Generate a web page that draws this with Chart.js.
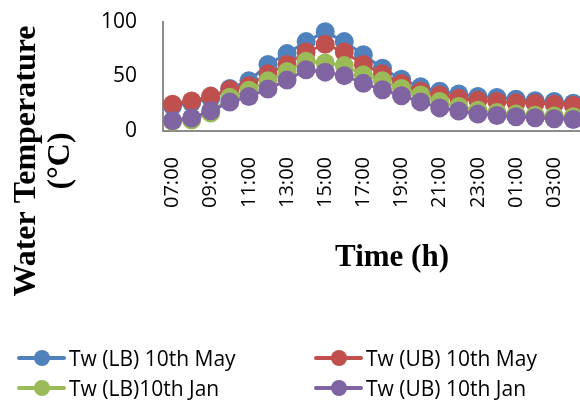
<!DOCTYPE html>
<html>
<head>
<meta charset="utf-8">
<script src="https://cdn.jsdelivr.net/npm/chart.js@4.4.1/dist/chart.umd.min.js"></script>
<style>
  html, body { margin: 0; padding: 0; background: #fff; overflow: hidden; }
  #wrap { position: relative; width: 580px; height: 405px; overflow: hidden; background: #fff; }
  #wrap canvas { position: absolute; left: 0; top: 0; }
  .item { position: absolute; display: flex; align-items: center; white-space: nowrap;
          font: 21px "Open Sans", sans-serif; color: #000; height: 30px; }
  .key { position: relative; width: 49px; height: 16px; margin-right: 3px; flex: none; }
  .key .ln { position: absolute; left: 0; right: 0; top: 6px; height: 4px; border-radius: 2px; }
  .key .dot { position: absolute; left: 17px; top: 0; width: 16px; height: 16px; border-radius: 50%; }
</style>
</head>
<body>
<div id="wrap">
  <canvas id="chart" width="640" height="405"></canvas>
  <div id="legend"></div>
</div>
<script>
// Hourly water temperature over one day, starting at 07:00
const timeLabels = ['07:00','08:00','09:00','10:00','11:00','12:00','13:00','14:00',
                    '15:00','16:00','17:00','18:00','19:00','20:00','21:00','22:00',
                    '23:00','00:00','01:00','02:00','03:00','04:00','05:00','06:00'];

const twLbMay = [23, 26, 30, 39, 46, 61, 71, 82, 91, 82, 70, 57.5,
                 47.5, 40.5, 36.5, 34, 31.6, 30.7, 29.2, 27.8, 27, 25.5, 25, 24.5];
const twUbMay = [24.5, 27.5, 32, 38, 41.5, 52.5, 61, 72.5, 79.5, 72.5, 61, 52.5,
                 43.5, 36.5, 33, 30, 28.3, 27, 26, 25.5, 24.6, 23.7, 23, 22.5];
const twLbJan = [9, 10, 16.5, 31, 37.5, 46, 54.5, 64, 62.5, 60, 51.5, 46,
                 39, 33, 27, 22.5, 19, 17, 15.5, 14.5, 13.7, 13, 12.5, 12];
const twUbJan = [9.5, 12, 18.5, 26.5, 31.6, 38.5, 46.7, 56.2, 54, 50.8, 43.7, 37.8,
                 32.3, 26.7, 21.2, 18.3, 15.5, 14.3, 13, 12.1, 11.2, 10.6, 10.2, 9.8];

const seriesNames  = ['Tw (LB) 10th May', 'Tw (UB) 10th May', 'Tw (LB)10th Jan', 'Tw (UB) 10th Jan'];
const seriesColors = ['#4F81BD', '#C0504D', '#9BBB59', '#8064A2'];
const seriesValues = [twLbMay, twUbMay, twLbJan, twUbJan];

const yTickValues = [0, 50, 100];
const xTitle = 'Time (h)';
const yTitleLines = ['Water Temperature', '(°C)'];

// Two-line rotated value-axis title, centred beside the plot and legend block
const yTitlePlugin = {
  id: 'yTitle',
  afterDraw(chart) {
    const ctx = chart.ctx;
    ctx.save();
    ctx.translate(44, 161);
    ctx.rotate(-Math.PI / 2);
    ctx.font = 'bold 32px "Liberation Serif", serif';
    ctx.fillStyle = '#000';
    ctx.textAlign = 'center';
    ctx.textBaseline = 'middle';
    ctx.fillText(yTitleLines[0], 0, -17);
    ctx.fillText(yTitleLines[1], 0, 17);
    ctx.restore();
  }
};

const datasets = seriesValues.map((vals, i) => ({
  label: seriesNames[i],
  data: vals,
  borderColor: seriesColors[i],
  backgroundColor: seriesColors[i],
  pointBackgroundColor: seriesColors[i],
  pointBorderWidth: 0,
  pointRadius: 9.5,
  pointHoverRadius: 9.5,
  borderWidth: 3,
  tension: 0,
  // later series sit on top of earlier ones
  order: seriesValues.length - i
}));

const chart = new Chart(document.getElementById('chart'), {
  type: 'line',
  data: { labels: timeLabels, datasets },
  options: {
    responsive: false,
    animation: false,
    devicePixelRatio: 1,
    layout: { padding: { left: 0, top: 22, right: 19, bottom: 124 } },
    plugins: { legend: { display: false }, tooltip: { enabled: false } },
    scales: {
      x: {
        type: 'category',
        offset: true,
        grid: { display: false, drawTicks: false },
        border: { display: true, color: '#8C8C8C', width: 2 },
        ticks: {
          autoSkip: false,
          minRotation: 90,
          maxRotation: 90,
          padding: 26,
          color: '#000',
          font: { family: 'Open Sans', size: 20 },
          callback: (v, idx) => (idx % 2 === 0 ? timeLabels[idx] : '')
        },
        title: {
          display: true,
          text: xTitle,
          color: '#000',
          font: { family: 'Liberation Serif', size: 31, weight: 'bold' },
          padding: { top: 0, bottom: 4 }
        },
        afterFit: s => {
          s.height = 150;
          s.paddingLeft = 0;
          s.paddingRight = 0;
        }
      },
      y: {
        min: 0,
        max: 100,
        grid: { display: false, drawTicks: false },
        border: { display: true, color: '#8C8C8C', width: 2 },
        afterBuildTicks: s => { s.ticks = yTickValues.map(v => ({ value: v })); },
        ticks: {
          padding: 26,
          color: '#000',
          font: { family: 'Open Sans', size: 21 }
        },
        afterFit: s => {
          s.width = 163;
          s.paddingTop = 0;
          s.paddingBottom = 0;
        }
      }
    }
  },
  plugins: [yTitlePlugin]
});

// Legend: two columns, two rows, built from the chart's datasets
const legendEl = document.getElementById('legend');
const colLeft = [17, 314];
const rowMid = [358, 388];
chart.data.datasets.forEach((ds, i) => {
  const item = document.createElement('div');
  item.className = 'item';
  item.style.left = colLeft[i % 2] + 'px';
  item.style.top = (rowMid[Math.floor(i / 2)] - 15) + 'px';
  const key = document.createElement('span');
  key.className = 'key';
  const ln = document.createElement('span');
  ln.className = 'ln';
  ln.style.background = ds.borderColor;
  const dot = document.createElement('span');
  dot.className = 'dot';
  dot.style.background = ds.pointBackgroundColor;
  key.appendChild(ln);
  key.appendChild(dot);
  const txt = document.createElement('span');
  txt.textContent = ds.label;
  item.appendChild(key);
  item.appendChild(txt);
  legendEl.appendChild(item);
});
</script>
</body>
</html>
